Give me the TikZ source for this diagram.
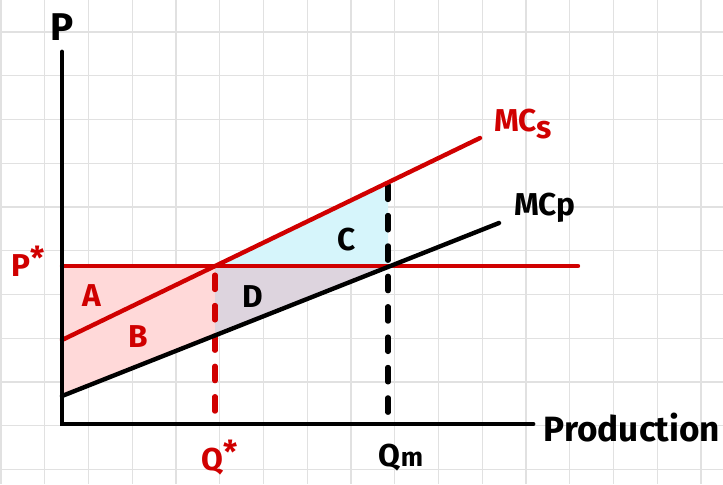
\documentclass[tikz,border=0pt]{standalone}
\usepackage{fontspec}
\setsansfont{Fira Sans}
\usetikzlibrary{calc}
\definecolor{cred}{RGB}{208,0,0}
\definecolor{cpink}{RGB}{255,217,217}
\definecolor{cblue}{RGB}{214,245,251}
\definecolor{cmauve}{RGB}{221,212,222}
\definecolor{cgrid}{RGB}{225,225,225}
\newcommand\lbl{\fontsize{18}{20}\selectfont}
\newcommand\biglbl{\fontsize{20}{24}\selectfont}

\begin{document}
\begin{tikzpicture}[x=0.02cm,y=-0.02cm,font=\sffamily\bfseries\lbl,
  axisline/.style={line width=2.8pt,line cap=round},
  curve/.style={line width=2.5pt,line cap=round},
  guide/.style={line width=2.9pt,dash pattern=on 8.3pt off 9pt,line cap=round}]
\useasboundingbox (0,0) rectangle (723,484);
% ===================== grid paper =====================
\foreach \gx in {0,...,16}
  \draw[cgrid,line width=0.8pt] ({1+43.75*\gx},0) -- ({1+43.75*\gx},484);
\foreach \gy in {0,...,10}
  \draw[cgrid,line width=0.8pt] (0,{32+43.75*\gy}) -- (723,{32+43.75*\gy});
% ===================== key points =====================
\coordinate (O) at (62,424);
\coordinate (ytop) at (62,52);
\coordinate (xend) at (533,424);
\coordinate (pl) at (62,266);
\coordinate (pr) at (578,266);
\coordinate (mcsa) at (62,340);
\coordinate (mcsb) at (480,138);
\coordinate (mcpa) at (62,396);
\coordinate (mcpb) at (499,223);
\coordinate (eqs) at (215,266);
\coordinate (eqm) at (388,266);
\coordinate (qsmcp) at (215,335.5);
\coordinate (qmmcs) at (388,185);
\coordinate (qsbot) at (215,418);
\coordinate (qmbot) at (388,418);
% ===================== shaded areas =====================
\fill[cpink] (pl) -- (eqs) -- (qsmcp) -- (mcpa) -- cycle;
\fill[cmauve] (eqs) -- (eqm) -- (qsmcp) -- cycle;
\fill[cblue] (eqs) -- (388,182.5) -- (eqm) -- cycle;
% ===================== guides and curves =====================
\draw[guide,cred] ($(eqs)+(0,9)$) -- (qsbot);
\draw[guide] (qmmcs) -- (qmbot);
\draw[curve,cred] (pl) -- (pr);
\draw[curve,cred] (mcsa) -- (mcsb);
\draw[curve] (mcpa) -- (mcpb);
% ===================== axes =====================
\draw[axisline] (ytop) -- (O) -- (xend);
% ===================== labels =====================
\node (plbl) at (62,27) {\fontsize{22}{25}\selectfont P};
\node (prodlbl) at (632,428) {\biglbl Production};
\node[cred] (pstar) at (28,261) {P\raisebox{4pt}{*}};
\node[cred] (alb) at (92,296) {A};
\node[cred] (blb) at (138,337) {B};
\node (dlb) at (253,297) {D};
\node (clb) at (347,240) {C};
\node[cred] (mcslbl) at (523,124) {MC\raisebox{-4pt}{s}};
\node (mcplbl) at (545,208) {MCp};
\node[cred] (qstar) at (220,458) {Q\raisebox{4pt}{*}};
\node (qmlbl) at (401,458) {Q{\fontsize{15}{15}\selectfont m}};
\end{tikzpicture}
\end{document}
